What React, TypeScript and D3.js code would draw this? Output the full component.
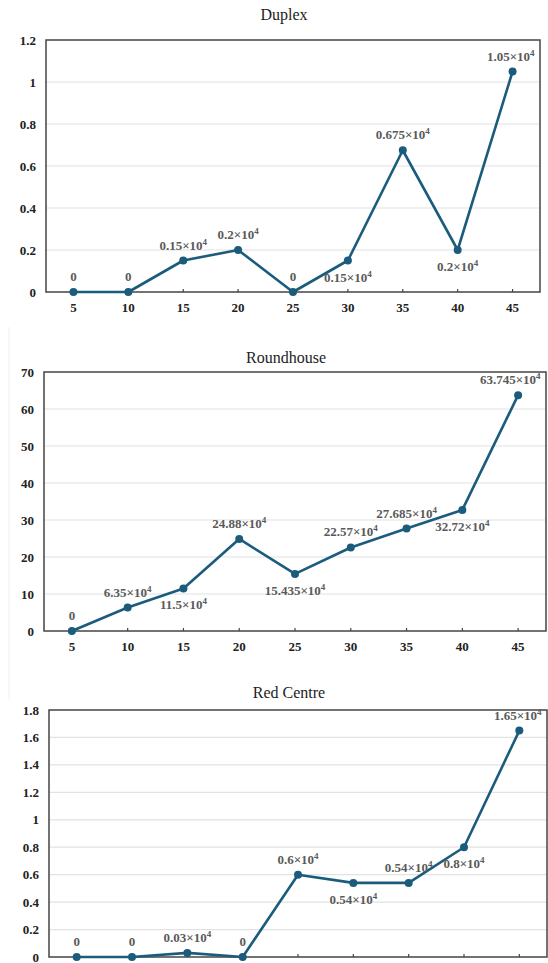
import React from 'react';
import * as d3 from 'd3';

// age groups on the x axis
const ages = [5, 10, 15, 20, 25, 30, 35, 40, 45];

// values in units of 10^4
const duplexValues = [0, 0, 0.15, 0.2, 0, 0.15, 0.675, 0.2, 1.05];
const roundhouseValues = [0, 6.35, 11.5, 24.88, 15.435, 22.57, 27.685, 32.72, 63.745];
const redCentreValues = [0, 0, 0.03, 0, 0.6, 0.54, 0.54, 0.8, 1.65];

// where each value label sits relative to its point: a = above, b = below
const duplexPlacement = ['a', 'a', 'a', 'a', 'a', 'b', 'a', 'b', 'a'];
const roundhousePlacement = ['a', 'a', 'b', 'a', 'b', 'a', 'a', 'b', 'a'];
const redCentrePlacement = ['a', 'a', 'a', 'a', 'a', 'b', 'a', 'b', 'a'];

const yMaxes = { duplex: 1.2, roundhouse: 70, redCentre: 1.8 };
const yTickCounts = { duplex: 6, roundhouse: 7, redCentre: 9 };

const LINE = '#1b5c7c';
const FONT = "'Liberation Serif', 'DejaVu Serif', serif";

type PanelProps = {
  title: string;
  values: number[];
  placement: string[];
  yMax: number;
  tickCount: number;
  left: number;
  top: number;
  right: number;
  bottom: number;
  titleY: number;
  showXLabels?: boolean;
};

function Panel(props: PanelProps) {
  const { title, values, placement, yMax, tickCount, left, top, right, bottom, titleY } = props;
  const showXLabels = props.showXLabels !== false;
  const x = d3
    .scalePoint<number>()
    .domain(ages)
    .range([left, right])
    .padding(0.5);
  const y = d3.scaleLinear().domain([0, yMax]).range([bottom, top]);
  const ticks = y.ticks(tickCount);
  const clipId = 'clip-' + title.replace(' ', '');

  const line = d3
    .line<number>()
    .x((d, i) => x(ages[i]) as number)
    .y(d => y(d));

  // title sits a little left of the plot's centre in the original
  const titleX = (left + right) / 2 - 9;

  return (
    <g>
      <text x={titleX} y={titleY} textAnchor="middle" fontFamily={FONT} fontSize={16} fill="#222">
        {title}
      </text>
      {ticks.map(t => (
        <g key={t}>
          {t > 0 && t < yMax && (
            <line x1={left} x2={right} y1={y(t)} y2={y(t)} stroke="#e2e2e2" strokeWidth={1.2} />
          )}
          <text
            x={left - 10}
            y={y(t) + 4.5}
            textAnchor="end"
            fontFamily={FONT}
            fontWeight="bold"
            fontSize={13}
            fill="#222"
          >
            {String(+t.toFixed(2))}
          </text>
        </g>
      ))}
      <rect x={left} y={top} width={right - left} height={bottom - top} fill="none" stroke="#444" strokeWidth={1.5} />
      {ages.map(a => (
        <g key={a}>
          <line x1={x(a)} x2={x(a)} y1={bottom} y2={bottom - 3} stroke="#444" strokeWidth={1.2} />
          {showXLabels && (
            <text
              x={x(a)}
              y={bottom + 20}
              textAnchor="middle"
              fontFamily={FONT}
              fontWeight="bold"
              fontSize={13}
              fill="#222"
            >
              {a}
            </text>
          )}
        </g>
      ))}
      <path d={line(values) || ''} fill="none" stroke={LINE} strokeWidth={2.6} strokeLinejoin="round" />
      {values.map((v, i) => (
        <circle key={i} cx={x(ages[i])} cy={y(v)} r={4} fill={LINE} />
      ))}
      <clipPath id={clipId}>
        <rect x={0} y={0} width={right} height={963} />
      </clipPath>
      <g clipPath={'url(#' + clipId + ')'}>
        {values.map((v, i) => {
          const text = v === 0 ? '0' : String(v) + '×10';
          // rough width so labels near the right edge are pulled back inside
          const w = text.length * 6.5 + (v === 0 ? 0 : 5);
          let cx = x(ages[i]) as number;
          if (cx + w / 2 > right - 4) cx = right - 4 - w / 2;
          const cy = y(v) + (placement[i] === 'a' ? -11 : 21);
          return (
            <text
              key={i}
              x={cx}
              y={cy}
              textAnchor="middle"
              fontFamily={FONT}
              fontWeight="bold"
              fontSize={13}
              fill="#5a5a5a"
            >
              {v === 0 ? (
                '0'
              ) : (
                <>
                  {text}
                  <tspan dy={-5} fontSize={9}>
                    4
                  </tspan>
                </>
              )}
            </text>
          );
        })}
      </g>
    </g>
  );
}

export default function App() {
  return (
    <svg
      width={548}
      height={963}
      viewBox="0 0 548 963"
      style={{ position: 'absolute', left: 0, top: 0, background: '#fff' }}
    >
      <rect x={0} y={0} width={548} height={963} fill="#fff" />
      <line x1={9} x2={9} y1={327} y2={700} stroke="#f0f0f0" strokeWidth={1} />
      <Panel
        title="Duplex"
        values={duplexValues}
        placement={duplexPlacement}
        yMax={yMaxes.duplex}
        tickCount={yTickCounts.duplex}
        left={46}
        top={40}
        right={540}
        bottom={292}
        titleY={20}
      />
      <Panel
        title="Roundhouse"
        values={roundhouseValues}
        placement={roundhousePlacement}
        yMax={yMaxes.roundhouse}
        tickCount={yTickCounts.roundhouse}
        left={44}
        top={372}
        right={546}
        bottom={631}
        titleY={363}
      />
      <Panel
        title="Red Centre"
        values={redCentreValues}
        placement={redCentrePlacement}
        yMax={yMaxes.redCentre}
        tickCount={yTickCounts.redCentre}
        left={49}
        top={710}
        right={547}
        bottom={957}
        titleY={698}
        showXLabels={false}
      />
    </svg>
  );
}
